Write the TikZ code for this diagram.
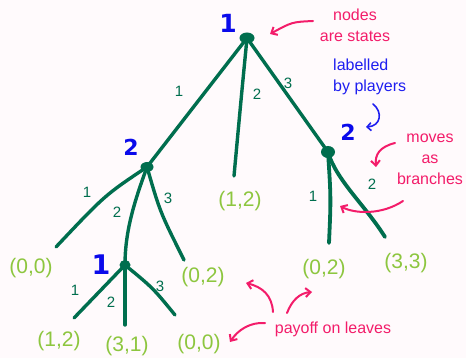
\documentclass[tikz,border=0pt]{standalone}
\usepackage{fontspec}
\setmainfont{Liberation Sans}
\newfontfamily\playerfont{DejaVu Sans}
\usetikzlibrary{shapes.geometric,arrows.meta}
\definecolor{bgc}{HTML}{FFFAFC}
\definecolor{treec}{HTML}{006E4E}
\definecolor{leafc}{HTML}{8DC63F}
\definecolor{playc}{HTML}{0A0AEB}
\definecolor{annc}{HTML}{F31C6A}
\definecolor{annb}{HTML}{1E1EF0}
\tikzset{
  statedot/.style={ellipse,fill=treec,inner sep=0pt,minimum width=13pt,minimum height=10pt},
  branch/.style={draw=treec,line width=3.4pt,line cap=round,line join=round},
  movelbl/.style={text=treec,font=\fontsize{15}{15}\selectfont,inner sep=0pt},
  leaflbl/.style={text=leafc,font=\fontsize{21}{21}\selectfont,inner sep=0pt},
  playerlbl/.style={text=playc,font=\playerfont\bfseries\fontsize{25}{25}\selectfont,inner sep=0pt},
  annot/.style={text=annc,font=\fontsize{16}{21}\selectfont,align=center,inner sep=0pt},
  annotblue/.style={text=annb,font=\fontsize{16}{21}\selectfont,align=left,inner sep=0pt},
  pinkarrow/.style={draw=annc,line width=2pt,line cap=round,-{Straight Barb[length=5pt,width=9pt,line width=2pt]}},
  bluearrow/.style={draw=annb,line width=1.6pt,line cap=round,-{Straight Barb[length=4pt,width=8pt,line width=1.6pt]}}
}
\begin{document}
\begin{tikzpicture}[x=1pt,y=-1pt]
\fill[bgc] (0,0) rectangle (466,358);
\useasboundingbox (0,0) rectangle (466,358);
% state nodes
\node[statedot,minimum width=15pt,minimum height=11pt] (r) at (247,38) {};
\node[statedot] (A) at (147,167) {};
\node[statedot,minimum width=14pt,minimum height=12pt] (B) at (328,152) {};
\node[statedot,minimum width=11pt,minimum height=10pt] (C) at (125,265) {};
% branch ends
\coordinate (m) at (234,176);
\coordinate (a1) at (56,247);
\coordinate (a3) at (184,260);
\coordinate (c1) at (74,318);
\coordinate (c2) at (125,325);
\coordinate (c3) at (175,315);
\coordinate (b1) at (329,243);
\coordinate (b2) at (385,237);
% branches
\draw[branch] (r.center) -- (A.center);
\draw[branch] (r.center) .. controls (241,100) .. (m);
\draw[branch] (r.center) -- (B.center);
\draw[branch] (A.center) .. controls (105,195) .. (a1);
\draw[branch] (A.center) .. controls (135,200) and (125,230) .. (C.center);
\draw[branch] (A.center) .. controls (160,212) .. (a3);
\draw[branch] (C.center) -- (c1);
\draw[branch] (C.center) -- (c2);
\draw[branch] (C.center) .. controls (153,288) .. (c3);
\draw[branch,line width=3.8pt] (B.center) .. controls (331,198) .. (b1);
\draw[branch,line width=3.8pt] (B.center) .. controls (336,180) and (365,205) .. (b2);
% player labels
\node[playerlbl] (pr) at (228,23) {1};
\node[playerlbl,font=\playerfont\bfseries\fontsize{22}{22}\selectfont] (pA) at (131,147) {2};
\node[playerlbl,font=\playerfont\bfseries\fontsize{22}{22}\selectfont] (pB) at (348,132) {2};
\node[playerlbl,font=\playerfont\bfseries\fontsize{27}{27}\selectfont] (pC) at (101,265) {1};
% move labels
\node[movelbl] (lr1) at (179,91) {1};
\node[movelbl] (lr2) at (257,94) {2};
\node[movelbl] (lr3) at (288,83) {3};
\node[movelbl] (lA1) at (87,192) {1};
\node[movelbl] (lA2) at (117,212) {2};
\node[movelbl] (lA3) at (168,198) {3};
\node[movelbl] (lC1) at (75,290) {1};
\node[movelbl] (lC2) at (111,302) {2};
\node[movelbl] (lC3) at (160,286) {3};
\node[movelbl] (lB1) at (313,196) {1};
\node[movelbl] (lB2) at (372,184) {2};
% payoffs
\node[leaflbl] (vm) at (240,201) {(1,2)};
\node[leaflbl] (va1) at (31,268) {(0,0)};
\node[leaflbl] (va3) at (203,277) {(0,2)};
\node[leaflbl] (vb1) at (324,269) {(0,2)};
\node[leaflbl] (vb2) at (406,263) {(3,3)};
\node[leaflbl] (vc1) at (59,341) {(1,2)};
\node[leaflbl] (vc2) at (127,346) {(3,1)};
\node[leaflbl] (vc3) at (199,344) {(0,0)};
% annotations
\node[annot] (t1) at (355,25) {nodes\\are states};
\node[annotblue,anchor=west] (t2) at (333,77) {labelled\\by players};
\node[annot] (t3) at (430,159) {moves\\as\\branches};
\node[annot] (t4) at (333,329) {payoff on leaves};
% annotation arrows
\coordinate (h1t) at (313,21); \coordinate (h1h) at (270,34);
\draw[pinkarrow] (h1t) .. controls (292,22) .. (h1h);
\coordinate (h2t) at (373,104); \coordinate (h2h) at (366,127);
\draw[bluearrow] (h2t) .. controls (383,112) and (381,126) .. (h2h);
\coordinate (h3t) at (395,143); \coordinate (h3h) at (376,167);
\draw[pinkarrow] (h3t) .. controls (379,147) and (375,155) .. (h3h);
\coordinate (h4t) at (403,201); \coordinate (h4h) at (340,206);
\draw[pinkarrow] (h4t) .. controls (382,215) and (355,214) .. (h4h);
\coordinate (h5t) at (273,312); \coordinate (h5h) at (246,283);
\draw[pinkarrow] (h5t) .. controls (272,295) and (262,287) .. (h5h);
\coordinate (h6t) at (287,313); \coordinate (h6h) at (312,292);
\draw[pinkarrow] (h6t) .. controls (292,300) and (300,293) .. (h6h);
\coordinate (h7t) at (265,323); \coordinate (h7h) at (230,342);
\draw[pinkarrow] (h7t) .. controls (250,322) and (238,330) .. (h7h);
\end{tikzpicture}
\end{document}
